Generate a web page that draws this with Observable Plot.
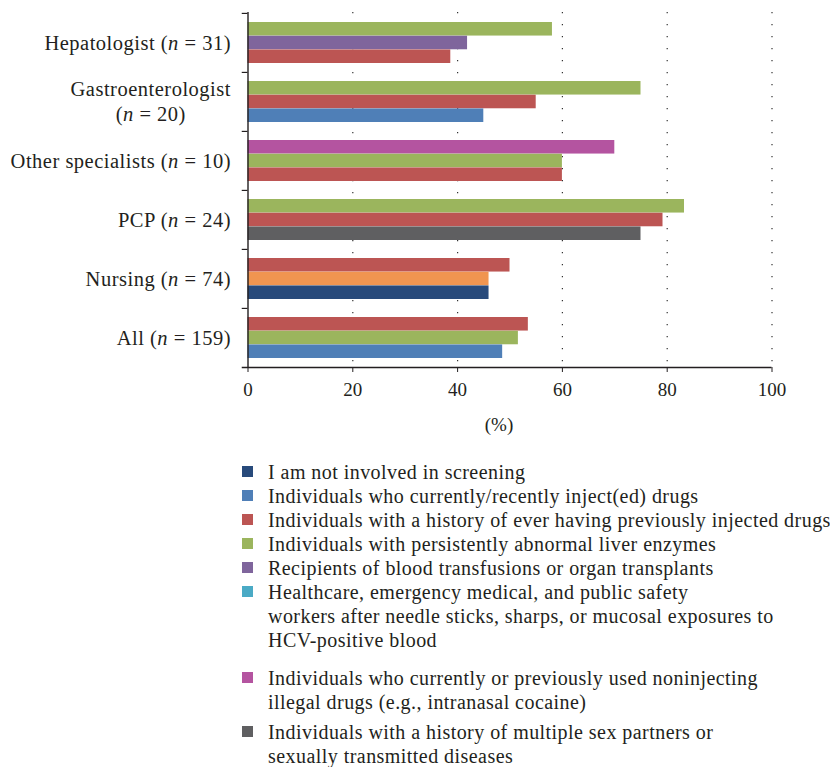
<!DOCTYPE html>
<html><head><meta charset="utf-8">
<script src="https://cdn.jsdelivr.net/npm/d3@7"></script>
<script src="https://cdn.jsdelivr.net/npm/@observablehq/plot@0.6"></script>
<style>
body{margin:0;background:#fff;font-family:"Liberation Serif",serif;color:#231f20}
#chart svg{display:block}
#legend{margin:23px 0 0 242px;font-size:20px;letter-spacing:0.45px;line-height:24px;white-space:pre}
.item{display:flex;align-items:flex-start}
.sw{width:11px;height:11px;flex:none;margin:6px 15px 0 0}
.item:nth-child(7){margin-top:14px}
.item:nth-child(8){margin-top:6px}
</style></head><body><div id="chart"></div><div id="legend"></div>
<script>
const groups = ["Hepatologist (n = 31)", "Gastroenterologist\n(n = 20)", "Other specialists (n = 10)", "PCP (n = 24)", "Nursing (n = 74)", "All (n = 159)"];
const seriesLabels = [
  "I am not involved in screening",
  "Individuals who currently/recently inject(ed) drugs",
  "Individuals with a history of ever having previously injected drugs",
  "Individuals with persistently abnormal liver enzymes",
  "Recipients of blood transfusions or organ transplants",
  "Healthcare, emergency medical, and public safety\nworkers after needle sticks, sharps, or mucosal exposures to\nHCV-positive blood",
  "Individuals who currently or previously used noninjecting\nillegal drugs (e.g., intranasal cocaine)",
  "Individuals with a history of multiple sex partners or\nsexually transmitted diseases"
];
const seriesColors = ["#284a7b", "#4f7fb7", "#bc5553", "#9bb55d", "#7f659c", "#4aaac5", "#b454a0", "#5f5f61", "#f09550"];
// series index of each bar, top to bottom within each group
const barSeries = [[3, 4, 2], [3, 2, 1], [6, 3, 2], [3, 2, 7], [2, 8, 0], [2, 3, 1]];
const barValues = [[58.1, 41.9, 38.7], [75, 55, 45], [70, 60, 60], [83.3, 79.2, 75], [50, 46, 46], [53.5, 51.6, 48.6]];
const xTicks = [0, 20, 40, 60, 80, 100];
const gridTicks = [20, 40, 60, 80, 100];

const rows = groups.flatMap((g, i) => barValues[i].map((v, k) => ({group: g, slot: k, series: barSeries[i][k], value: v})));

const W = 830, H = 437, mt = 12, mb = 70, ml = 247.5, mr = 58.5;
const bw = (H - mt - mb) / groups.length;
const pad = 9, bh = (bw - 2 * pad) / 3;
const ink = "#231f20";

const slotMarks = [0, 1, 2].map(k => Plot.barX(rows.filter(d => d.slot === k), {
  x: "value", y: "group", fill: d => seriesColors[d.series],
  insetTop: pad + bh * k, insetBottom: bw - pad - bh * (k + 1)
}));

const plot = Plot.plot({
  width: W, height: H, marginTop: mt, marginBottom: mb, marginLeft: ml, marginRight: mr,
  style: {fontFamily: "Liberation Serif", fontSize: "18px", color: ink, background: "#fff"},
  x: {domain: [0, 100], axis: null},
  y: {domain: groups, padding: 0, axis: null},
  color: {type: "identity"},
  marks: [
    Plot.ruleX(gridTicks, {stroke: "#333", strokeDasharray: "1.2,10.8", strokeWidth: 1.2}),
    ...slotMarks,
    Plot.ruleX([0], {stroke: ink, strokeWidth: 1.4}),
    Plot.ruleY(groups, {y: d => d, x1: -1.1, x2: 0, dy: -bw / 2, stroke: ink, strokeWidth: 1.2}),
    Plot.ruleY([groups[groups.length - 1]], {y: d => d, x1: -1.1, x2: 100, dy: bw / 2, stroke: ink, strokeWidth: 1.5}),
    Plot.axisX(xTicks, {tickSize: 5, tickPadding: 10, fontSize: 19, stroke: ink, fill: ink, label: null}),
    Plot.axisY({tickSize: 0, tickPadding: 17, fontSize: 20.5, fill: ink, label: null}),
    Plot.text(["(%)"], {frameAnchor: "bottom", lineAnchor: "middle", dy: 57, dx: -11, fontSize: 19, fill: ink})
  ]
});
document.getElementById("chart").append(plot);

// rich y labels: italic n, centred multi-line block
const ns = "http://www.w3.org/2000/svg";
function rich(parent, str) {
  str.split(/(\bn\b(?= =))/).forEach(part => {
    if (!part) return;
    const s = document.createElementNS(ns, "tspan");
    s.textContent = part;
    if (part === "n") s.setAttribute("font-style", "italic");
    parent.appendChild(s);
  });
}
const yTexts = plot.querySelectorAll('g[aria-label="y-axis tick label"] text');
yTexts.forEach((t, i) => {
  const label = groups[i];
  const lines = label.split("\n");
  t.textContent = "";
  t.removeAttribute("y"); t.removeAttribute("dy");
  t.setAttribute("letter-spacing", "0.5px");
  const spans = lines.map((line, j) => {
    const ts = document.createElementNS(ns, "tspan");
    ts.setAttribute("x", 0);
    ts.setAttribute("y", (j - (lines.length - 1) / 2) * 25);
    ts.setAttribute("dy", "0.32em");
    rich(ts, line);
    t.appendChild(ts);
    return ts;
  });
  if (lines.length > 1) {
    const maxW = Math.max(...spans.map(s => s.getComputedTextLength()));
    t.setAttribute("text-anchor", "middle");
    spans.forEach(s => s.setAttribute("x", -maxW / 2));
  }
});

// legend
const legend = document.getElementById("legend");
seriesLabels.forEach((lab, i) => {
  const it = document.createElement("div");
  it.className = "item";
  const sw = document.createElement("span");
  sw.className = "sw"; sw.style.background = seriesColors[i];
  const tx = document.createElement("span");
  tx.textContent = lab;
  it.append(sw, tx);
  legend.append(it);
});
</script></body></html>
